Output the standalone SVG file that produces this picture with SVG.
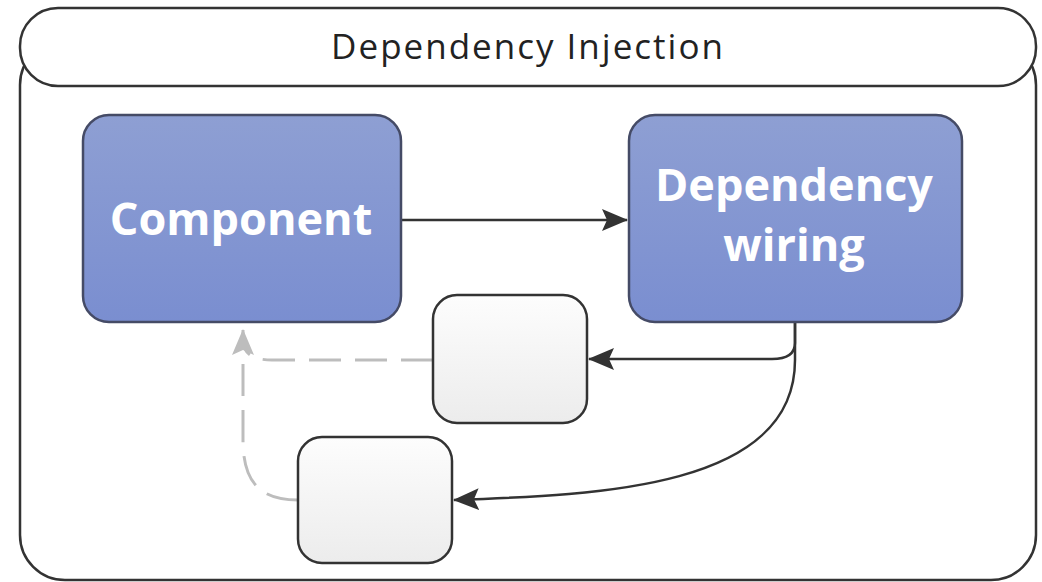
<svg xmlns="http://www.w3.org/2000/svg" width="1042" height="582" viewBox="0 0 1042 582">
  <defs>
    <linearGradient id="blue" x1="0" y1="0" x2="0" y2="1">
      <stop offset="0" stop-color="#8e9fd3"/>
      <stop offset="1" stop-color="#7a8ed0"/>
    </linearGradient>
    <linearGradient id="light" x1="0" y1="0" x2="0" y2="1">
      <stop offset="0" stop-color="#fdfdfd"/>
      <stop offset="1" stop-color="#ececec"/>
    </linearGradient>
    <marker id="arrow" viewBox="0 0 26 22" refX="25" refY="11" markerWidth="26" markerHeight="22" markerUnits="userSpaceOnUse" orient="auto">
      <path d="M0,0 L26,11 L0,22 L5,11 Z" fill="#333"/>
    </marker>
    <marker id="arrowGray" viewBox="0 0 26 22" refX="25" refY="11" markerWidth="26" markerHeight="22" markerUnits="userSpaceOnUse" orient="auto">
      <path d="M0,0 L26,11 L0,22 L5,11 Z" fill="#bdbdbd"/>
    </marker>
  </defs>
  <style>
    .frame { fill: #ffffff; stroke: #333333; stroke-width: 2.5; }
    .main { fill: url(#blue); stroke: #454b66; stroke-width: 2.5; }
    .sub { fill: url(#light); stroke: #333333; stroke-width: 2.5; }
    .title { font-family: "Open Sans", "Noto Sans", sans-serif; font-size: 35px; letter-spacing: 2px; fill: #222222; text-anchor: middle; }
    .label { font-family: "Open Sans", "Noto Sans", sans-serif; font-weight: bold; font-size: 45px; fill: #ffffff; text-anchor: middle; }
    .conn { fill: none; stroke: #333333; stroke-width: 2.5; }
    .dash { fill: none; stroke: #bdbdbd; stroke-width: 3; stroke-dasharray: 32 14; }
  </style>
  <rect width="1042" height="582" fill="#ffffff"/>

  <g id="container">
    <rect class="frame" x="20" y="40" width="1016" height="540" rx="45" ry="45"/>
    <rect class="frame" x="20" y="8" width="1016" height="78" rx="38" ry="38"/>
    <text class="title" x="528" y="59">Dependency Injection</text>
  </g>

  <g id="connectors">
    <line class="conn" x1="401" y1="220" x2="627" y2="220" marker-end="url(#arrow)"/>
    <path class="conn" d="M795,322 L795,343 Q795,359 772,359 L589,359" marker-end="url(#arrow)"/>
    <path class="conn" d="M795,322 L795,360 C795,488 600,495 454,500" marker-end="url(#arrow)"/>
    <path class="dash" d="M433,360 L272,360 Q243,360 243,340 L243,330" marker-end="url(#arrowGray)"/>
    <path class="dash" d="M298,500 C258,500 243,480 243,440 L243,350"/>
  </g>

  <g id="component">
    <rect class="main" x="83" y="115" width="318" height="207" rx="26" ry="26"/>
    <text class="label" x="241" y="235">Component</text>
  </g>

  <g id="dependency-wiring">
    <rect class="main" x="629" y="115" width="333" height="207" rx="26" ry="26"/>
    <text class="label" x="794" y="201">Dependency</text>
    <text class="label" x="794" y="261">wiring</text>
  </g>

  <g id="box-1">
    <rect class="sub" x="433" y="295" width="154" height="128" rx="24" ry="24"/>
  </g>

  <g id="box-2">
    <rect class="sub" x="298" y="437" width="154" height="126" rx="24" ry="24"/>
  </g>
</svg>
